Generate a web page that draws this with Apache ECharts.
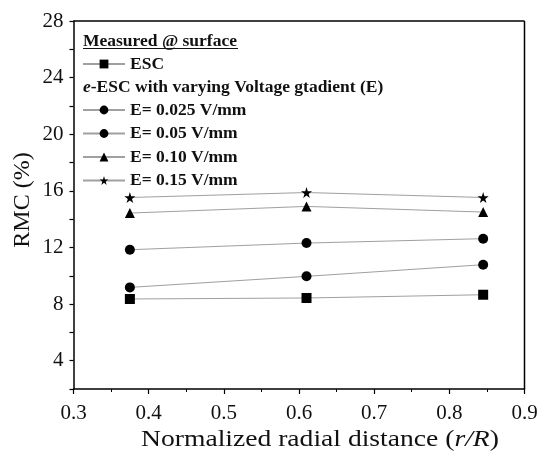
<!DOCTYPE html>
<html>
<head>
<meta charset="utf-8">
<script src="https://cdn.jsdelivr.net/npm/echarts@6/dist/echarts.min.js"></script>
<style>
  html, body { margin: 0; padding: 0; background: #fff; }
  #chart { width: 541px; height: 461px; }
</style>
</head>
<body>
<div id="chart"></div>
<script>
// Radial positions (r/R) where moisture content was measured
const radialPos = [0.375, 0.61, 0.845];

// Residual moisture content (%) per treatment
const escRMC    = [8.36, 8.43, 8.66];
const e025RMC   = [9.18, 9.96, 10.78];
const e05RMC    = [11.84, 12.31, 12.62];
const e10RMC    = [14.43, 14.9, 14.5];
const e15RMC    = [15.53, 15.88, 15.53];

const seriesNames = ['ESC', 'E= 0.025 V/mm', 'E= 0.05 V/mm', 'E= 0.10 V/mm', 'E= 0.15 V/mm'];
const seriesSymbols = ['rect', 'circle', 'circle', 'triangle', 'path://M50,0 L61,35 L98,35 L68,57 L79,91 L50,70 L21,91 L32,57 L2,35 L39,35 Z'];
const seriesSizes = [10, 10, 10, 10, 11];
const seriesValues = [escRMC, e025RMC, e05RMC, e10RMC, e15RMC];

const yTickLabels = [4, 8, 12, 16, 20, 24, 28];
const xTickLabels = [0.3, 0.4, 0.5, 0.6, 0.7, 0.8, 0.9];

const serif = 'Liberation Serif, DejaVu Serif, serif';

const chart = echarts.init(document.getElementById('chart'), null, { renderer: 'canvas' });

const series = seriesNames.map((name, i) => ({
  name: name,
  type: 'line',
  data: radialPos.map((x, j) => [x, seriesValues[i][j]]),
  symbol: seriesSymbols[i],
  symbolSize: seriesSizes[i],
  showSymbol: true,
  lineStyle: { color: '#a0a0a0', width: 1 },
  itemStyle: { color: '#000' },
  emphasis: { disabled: true },
  z: 3
}));

const legendText = { fontFamily: serif, fontWeight: 'bold', fontSize: 17.5, color: '#111' };

chart.setOption({
  animation: false,
  backgroundColor: '#fff',
  grid: { left: 73.5, right: 16.5, top: 21, bottom: 72, show: false },
  xAxis: {
    type: 'value',
    min: 0.3, max: 0.9, interval: 0.1,
    axisLine: { show: true, lineStyle: { color: '#000', width: 1.5 } },
    axisTick: { show: true, inside: false, length: 5, lineStyle: { color: '#000', width: 1.2 } },
    minorTick: { show: true, splitNumber: 2, length: 3, lineStyle: { color: '#000', width: 1 } },
    splitLine: { show: false },
    axisLabel: {
      fontFamily: serif, fontSize: 21, color: '#111', margin: 14,
      formatter: v => {
        const r = Math.round(v * 10) / 10;
        return xTickLabels.includes(r) ? r.toFixed(1) : '';
      }
    }
  },
  yAxis: {
    type: 'value',
    min: 2, max: 28, interval: 2,
    axisLine: { show: true, lineStyle: { color: '#000', width: 1.5 } },
    axisTick: { show: true, inside: false, length: 4, lineStyle: { color: '#000', width: 1.2 } },
    splitLine: { show: false },
    axisLabel: {
      fontFamily: serif, fontSize: 21, color: '#111', margin: 10,
      formatter: v => (yTickLabels.includes(v) ? String(v) : '')
    }
  },
  legend: [
    {
      data: ['ESC'],
      left: 77, top: 50,
      itemWidth: 42, itemHeight: 11,
      textStyle: legendText,
      selectedMode: false
    },
    {
      data: seriesNames.slice(1),
      orient: 'vertical',
      left: 77, top: 96,
      itemWidth: 42, itemHeight: 11, itemGap: 5.5,
      textStyle: legendText,
      selectedMode: false
    }
  ],
  graphic: [
    // frame top and right edges
    { type: 'line', shape: { x1: 73.5, y1: 21, x2: 524.5, y2: 21 }, style: { stroke: '#000', lineWidth: 1.5 }, silent: true },
    { type: 'line', shape: { x1: 524.5, y1: 21, x2: 524.5, y2: 389 }, style: { stroke: '#000', lineWidth: 1.5 }, silent: true },
    // legend group headings
    {
      type: 'text', left: 83, top: 32,
      style: { text: 'Measured @ surface', font: 'bold 17.5px ' + serif, fill: '#111' }
    },
    { type: 'line', shape: { x1: 83, y1: 48.5, x2: 238, y2: 48.5 }, style: { stroke: '#111', lineWidth: 1 }, silent: true },
    {
      type: 'text', left: 83, top: 78,
      style: {
        rich: {
          i: { fontFamily: serif, fontWeight: 'bold', fontStyle: 'italic', fontSize: 17.5, fill: '#111' },
          b: { fontFamily: serif, fontWeight: 'bold', fontSize: 17.5, fill: '#111' }
        },
        text: '{i|e}{b|-ESC with varying Voltage gtadient (E)}'
      }
    },
    // y-axis title
    {
      type: 'text', x: 23, y: 200, rotation: Math.PI / 2,
      style: {
        text: 'RMC (%)', font: '24px ' + serif, fill: '#111',
        align: 'center', verticalAlign: 'middle'
      }
    },
    // x-axis title
    {
      type: 'text', x: 141, y: 428, scaleX: 1.2, scaleY: 1,
      style: {
        rich: {
          n: { fontFamily: serif, fontSize: 23, fill: '#111' },
          it: { fontFamily: serif, fontStyle: 'italic', fontSize: 23, fill: '#111' }
        },
        text: '{n|Normalized radial distance (}{it|r/R}{n|)}'
      }
    }
  ],
  series: series
});
</script>
</body>
</html>
